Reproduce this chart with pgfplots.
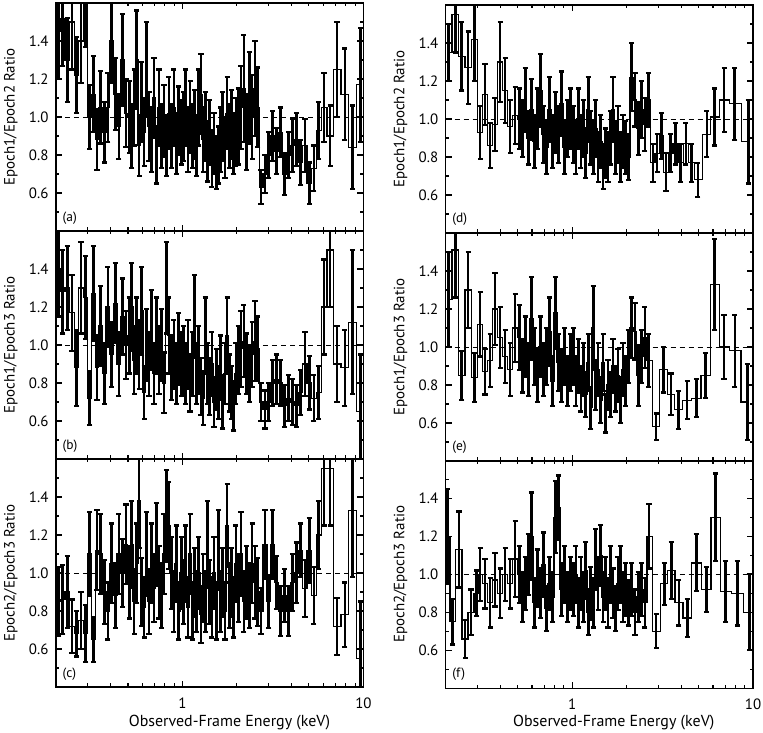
\documentclass[border=0pt]{standalone}
\usepackage{fontspec}
\setmainfont{PT Sans}
\usepackage{pgfplots}
\usepackage{pgfplotstable}
\pgfplotsset{compat=1.18}

\newcommand\mytickfont{\fontsize{15}{17}\selectfont}
\newcommand\mylabfont{\fontsize{15}{17}\selectfont}
\newcommand\myxlabfont{\fontsize{16}{18}\selectfont}
\newcommand\myletfont{\fontsize{13.5}{15}\selectfont}

\pgfplotstableread{
x y e
0.206 1.45 0.25
0.218 1.52 0.25
0.231 1.30 0.22
0.245 1.50 0.25
0.260 1.22 0.20
0.275 1.40 0.22
0.292 1.62 0.25
0.307 1.00 0.17
0.322 1.12 0.20
0.337 0.88 0.16
0.353 1.05 0.19
0.370 0.92 0.16
0.387 1.05 0.18
0.406 1.40 0.22
0.425 1.12 0.19
0.445 0.95 0.17
0.466 1.30 0.24
0.488 1.02 0.18
0.508 1.00 0.19
0.524 0.90 0.17
0.541 1.05 0.20
0.558 1.30 0.26
0.576 0.85 0.16
0.595 1.08 0.21
0.614 0.92 0.18
0.633 1.25 0.25
0.654 0.95 0.18
0.675 0.88 0.17
0.696 1.10 0.21
0.718 0.80 0.15
0.741 1.05 0.20
0.765 0.90 0.17
0.790 0.98 0.19
0.815 0.85 0.16
0.841 1.02 0.19
0.868 0.90 0.17
0.896 1.05 0.20
0.924 0.86 0.16
0.954 0.98 0.18
0.984 0.92 0.17
1.014 0.95 0.18
1.042 1.05 0.20
1.072 0.88 0.17
1.102 1.00 0.19
1.133 0.90 0.17
1.165 0.96 0.18
1.197 0.85 0.16
1.231 1.05 0.20
1.266 1.12 0.21
1.301 0.88 0.17
1.338 0.95 0.18
1.376 0.82 0.16
1.414 0.92 0.17
1.454 0.78 0.15
1.495 0.86 0.16
1.537 0.76 0.14
1.580 0.80 0.15
1.625 0.88 0.17
1.670 0.95 0.18
1.717 0.84 0.16
1.766 1.02 0.19
1.815 0.90 0.17
1.866 0.96 0.18
1.919 0.86 0.16
1.973 0.92 0.18
2.036 0.95 0.20
2.108 1.05 0.22
2.184 1.15 0.28
2.262 0.92 0.20
2.343 1.10 0.24
2.427 1.00 0.22
2.514 1.15 0.25
2.604 1.05 0.21
2.72 0.63 0.09
2.86 0.70 0.10
3.00 0.80 0.12
3.15 0.90 0.13
3.31 0.82 0.12
3.48 0.92 0.13
3.66 0.70 0.11
3.85 0.80 0.12
4.05 0.85 0.14
4.27 0.88 0.14
4.50 0.76 0.12
4.75 0.85 0.14
5.02 0.65 0.11
5.32 0.73 0.12
5.65 0.93 0.15
6.05 1.05 0.18
6.55 0.90 0.16
7.15 1.25 0.25
7.90 1.12 0.24
8.70 0.84 0.22
9.65 1.17 0.30
}\tabA

\pgfplotstableread{
x y e
0.206 1.40 0.25
0.218 1.28 0.22
0.231 1.30 0.22
0.245 1.17 0.20
0.260 0.88 0.20
0.275 1.30 0.24
0.292 1.25 0.22
0.307 0.72 0.14
0.322 1.27 0.25
0.337 0.88 0.17
0.353 1.10 0.21
0.370 0.85 0.16
0.387 1.20 0.21
0.406 0.95 0.17
0.425 1.22 0.21
0.445 0.90 0.17
0.466 1.15 0.20
0.488 1.00 0.18
0.508 1.05 0.20
0.524 1.20 0.23
0.541 0.92 0.18
0.558 1.05 0.20
0.576 0.95 0.18
0.595 1.18 0.23
0.614 0.75 0.14
0.633 1.00 0.19
0.654 0.90 0.17
0.675 1.08 0.21
0.696 0.85 0.16
0.718 1.05 0.20
0.741 0.92 0.18
0.765 1.00 0.19
0.790 0.80 0.16
0.815 1.30 0.24
0.841 1.05 0.20
0.868 0.88 0.17
0.896 0.95 0.18
0.924 0.85 0.16
0.954 0.98 0.19
0.984 0.90 0.17
1.014 0.92 0.18
1.042 0.85 0.16
1.072 0.95 0.18
1.102 0.80 0.15
1.133 0.90 0.17
1.165 1.15 0.22
1.197 0.85 0.16
1.231 0.92 0.18
1.266 0.78 0.15
1.301 0.72 0.14
1.338 1.05 0.20
1.376 0.85 0.16
1.414 0.78 0.15
1.454 0.90 0.17
1.495 0.70 0.13
1.537 0.82 0.16
1.580 0.75 0.14
1.625 0.88 0.17
1.670 0.70 0.14
1.717 0.85 0.16
1.766 1.05 0.20
1.815 0.80 0.15
1.866 0.75 0.14
1.919 0.68 0.13
1.973 0.85 0.16
2.036 0.92 0.18
2.108 0.98 0.20
2.184 1.02 0.19
2.262 0.90 0.16
2.343 0.85 0.15
2.427 0.95 0.17
2.514 1.02 0.21
2.604 0.98 0.17
2.72 0.70 0.10
2.86 0.66 0.10
3.00 0.70 0.10
3.15 0.80 0.12
3.31 0.82 0.13
3.48 0.80 0.12
3.66 0.68 0.11
3.85 0.72 0.12
4.05 0.70 0.12
4.27 0.68 0.11
4.50 0.75 0.12
4.75 0.90 0.17
5.02 0.80 0.14
5.32 0.72 0.12
5.65 0.75 0.14
6.05 1.20 0.25
6.55 1.50 0.30
7.15 0.90 0.20
7.90 0.88 0.20
8.70 1.12 0.38
9.65 0.65 0.30
}\tabB

\pgfplotstableread{
x y e
0.206 0.85 0.18
0.218 0.86 0.18
0.231 0.90 0.19
0.245 0.72 0.14
0.260 0.68 0.12
0.275 0.75 0.15
0.292 0.68 0.15
0.307 1.10 0.22
0.322 0.65 0.12
0.337 1.12 0.21
0.353 1.10 0.21
0.370 0.90 0.17
0.387 0.80 0.15
0.406 1.05 0.21
0.425 0.88 0.17
0.445 1.10 0.21
0.466 1.00 0.18
0.488 1.15 0.21
0.508 0.95 0.19
0.524 1.15 0.23
0.541 0.85 0.17
0.558 1.05 0.21
0.576 1.38 0.25
0.595 0.90 0.18
0.614 0.82 0.16
0.633 1.10 0.22
0.654 0.85 0.17
0.675 1.05 0.21
0.696 0.92 0.18
0.718 1.15 0.22
0.741 0.95 0.19
0.765 0.88 0.17
0.790 1.10 0.21
0.815 1.30 0.24
0.841 1.25 0.23
0.868 1.00 0.19
0.896 0.85 0.16
0.924 1.05 0.20
0.954 0.80 0.15
0.984 1.00 0.19
1.014 0.90 0.17
1.042 1.05 0.20
1.072 0.82 0.16
1.102 1.10 0.21
1.133 0.80 0.15
1.165 0.95 0.18
1.197 0.85 0.16
1.231 1.00 0.19
1.266 0.78 0.15
1.301 0.92 0.18
1.338 0.85 0.16
1.376 1.15 0.23
1.414 0.90 0.17
1.454 0.82 0.16
1.495 1.00 0.19
1.537 0.80 0.15
1.580 1.12 0.21
1.625 0.85 0.16
1.670 0.95 0.18
1.717 0.80 0.15
1.766 1.25 0.22
1.815 0.88 0.17
1.866 0.95 0.18
1.919 0.82 0.16
1.973 1.05 0.20
2.036 0.92 0.18
2.108 1.10 0.22
2.184 0.85 0.16
2.262 0.95 0.19
2.343 0.88 0.17
2.427 1.05 0.21
2.514 0.95 0.19
2.604 0.90 0.18
2.72 0.80 0.12
2.86 1.15 0.18
3.00 0.85 0.14
3.15 1.15 0.18
3.31 0.95 0.14
3.48 0.80 0.13
3.66 0.88 0.14
3.85 0.80 0.13
4.05 0.95 0.15
4.27 1.00 0.16
4.50 1.12 0.14
4.75 0.92 0.15
5.02 1.12 0.17
5.32 0.88 0.15
5.65 1.20 0.18
6.05 1.55 0.30
6.55 1.55 0.30
7.15 0.72 0.15
7.90 0.78 0.17
8.70 1.33 0.35
9.65 0.55 0.30
}\tabC

\pgfplotstableread{
x y e
0.208 1.35 0.15
0.226 1.55 0.20
0.245 1.33 0.18
0.266 1.27 0.19
0.288 1.42 0.22
0.310 0.93 0.14
0.330 1.13 0.16
0.352 0.86 0.12
0.375 0.97 0.14
0.400 1.30 0.21
0.426 1.15 0.17
0.454 0.96 0.14
0.484 1.02 0.15
0.510 1.00 0.16
0.530 0.95 0.15
0.551 1.10 0.17
0.572 0.90 0.14
0.595 1.05 0.16
0.618 0.88 0.14
0.642 1.00 0.16
0.668 1.15 0.19
0.694 0.92 0.15
0.721 0.85 0.14
0.749 1.05 0.17
0.779 0.88 0.14
0.809 0.98 0.16
0.841 0.92 0.15
0.874 1.08 0.17
0.909 0.85 0.14
0.944 0.95 0.15
0.981 1.00 0.16
1.016 0.92 0.15
1.048 0.85 0.14
1.082 1.00 0.16
1.117 0.88 0.14
1.152 0.95 0.15
1.189 0.82 0.13
1.227 1.05 0.17
1.267 0.90 0.14
1.307 0.85 0.14
1.349 0.95 0.15
1.392 0.80 0.13
1.437 0.88 0.14
1.483 0.75 0.12
1.530 0.82 0.13
1.579 0.80 0.13
1.630 0.90 0.14
1.682 1.05 0.17
1.736 0.85 0.14
1.791 0.92 0.15
1.849 0.80 0.13
1.908 0.88 0.14
1.969 0.85 0.14
2.043 0.80 0.12
2.131 1.22 0.18
2.222 1.10 0.14
2.318 0.95 0.14
2.418 1.05 0.15
2.521 0.97 0.14
2.640 1.10 0.14
2.80 0.77 0.10
2.95 0.82 0.10
3.12 0.91 0.12
3.30 0.72 0.10
3.50 0.82 0.10
3.72 0.87 0.11
3.97 0.77 0.10
4.25 0.87 0.11
4.58 0.77 0.10
4.95 0.68 0.09
5.55 0.92 0.12
6.13 1.01 0.15
6.92 1.10 0.17
7.92 1.08 0.19
9.40 0.88 0.22
}\tabD

\pgfplotstableread{
x y e
0.208 1.25 0.25
0.226 1.51 0.25
0.245 0.85 0.13
0.266 1.30 0.20
0.288 0.84 0.13
0.310 1.12 0.17
0.330 0.87 0.12
0.352 0.93 0.14
0.375 1.20 0.19
0.400 1.05 0.16
0.426 0.95 0.14
0.454 0.88 0.14
0.484 1.10 0.18
0.510 1.05 0.17
0.530 0.90 0.14
0.551 1.00 0.16
0.572 0.88 0.14
0.595 1.15 0.22
0.618 0.95 0.15
0.642 0.85 0.14
0.668 1.00 0.16
0.694 0.88 0.14
0.721 0.95 0.15
0.749 1.08 0.18
0.779 0.82 0.13
0.809 1.18 0.19
0.841 0.92 0.15
0.874 0.85 0.14
0.909 0.95 0.15
0.944 0.82 0.13
0.981 0.92 0.15
1.016 0.95 0.15
1.048 0.82 0.13
1.082 0.90 0.14
1.117 0.78 0.12
1.152 0.88 0.14
1.189 0.75 0.12
1.227 0.92 0.15
1.267 0.68 0.11
1.307 1.10 0.22
1.349 0.80 0.13
1.392 0.88 0.14
1.437 0.72 0.12
1.483 0.92 0.15
1.530 0.65 0.10
1.579 0.80 0.13
1.630 0.75 0.12
1.682 0.90 0.14
1.736 0.78 0.12
1.791 0.85 0.14
1.849 0.72 0.12
1.908 0.88 0.14
1.969 0.82 0.13
2.043 0.95 0.14
2.131 1.10 0.16
2.222 1.08 0.15
2.318 0.85 0.16
2.418 0.95 0.14
2.521 1.05 0.16
2.640 0.93 0.14
2.91 0.58 0.07
3.20 0.88 0.12
3.52 0.75 0.11
3.87 0.67 0.10
4.32 0.72 0.10
4.86 0.73 0.10
5.46 0.85 0.12
6.14 1.33 0.24
6.90 1.00 0.17
7.93 0.98 0.19
9.30 0.71 0.20
}\tabE

\pgfplotstableread{
x y e
0.205 1.20 0.25
0.218 0.75 0.12
0.237 1.13 0.20
0.256 0.66 0.10
0.276 0.80 0.12
0.297 0.90 0.12
0.310 1.00 0.14
0.330 0.95 0.13
0.352 0.85 0.13
0.375 0.97 0.14
0.400 0.90 0.13
0.426 1.00 0.14
0.454 0.95 0.13
0.484 1.08 0.20
0.510 1.00 0.15
0.530 0.88 0.13
0.551 0.95 0.14
0.572 1.05 0.16
0.595 1.20 0.23
0.618 0.85 0.13
0.642 0.98 0.15
0.668 0.90 0.13
0.694 1.05 0.17
0.721 0.82 0.12
0.749 0.95 0.14
0.779 0.88 0.13
0.809 1.30 0.19
0.841 1.35 0.17
0.874 0.92 0.14
0.909 1.00 0.15
0.944 0.88 0.13
0.981 0.95 0.14
1.016 0.92 0.14
1.048 1.00 0.15
1.082 0.85 0.13
1.117 0.95 0.14
1.152 0.88 0.13
1.189 1.02 0.15
1.227 0.80 0.12
1.267 0.90 0.14
1.307 0.85 0.13
1.349 1.08 0.16
1.392 0.95 0.14
1.437 1.10 0.16
1.483 0.88 0.13
1.530 0.95 0.14
1.579 0.85 0.13
1.630 1.00 0.15
1.682 0.90 0.13
1.736 0.82 0.12
1.791 0.95 0.14
1.849 1.00 0.15
1.908 0.88 0.13
1.969 0.92 0.14
2.043 0.85 0.12
2.131 0.92 0.14
2.222 0.80 0.12
2.318 0.88 0.13
2.418 0.92 0.14
2.521 0.85 0.13
2.660 1.20 0.17
2.91 0.70 0.09
3.23 0.95 0.11
3.53 1.02 0.15
3.89 0.85 0.12
4.33 0.77 0.10
4.85 1.06 0.15
5.52 0.92 0.12
6.21 1.30 0.23
7.03 0.91 0.16
8.17 0.90 0.17
9.53 0.80 0.20
}\tabF

\pgfplotsset{
  every axis/.append style={
    scale only axis, width=307.4bp, height=228bp,
    xmin=0.2, xmax=10, ymin=0.4, ymax=1.6,
    xtick={1,10},
    minor xtick={0.3,0.4,0.5,0.6,0.7,0.8,0.9,2,3,4,5,6,7,8,9},
    ytick={0.6,0.8,1.0,1.2,1.4}, yticklabels={0.6,0.8,1.0,1.2,1.4},
    minor ytick={0.5,0.7,0.9,1.1,1.3,1.5},
    tick align=inside,
    major tick length=6bp, minor tick length=3.5bp,
    axis line style={black, line width=1.4bp},
    tick label style={font=\mytickfont},
    yticklabel style={xshift=-4bp},
    xticklabel style={yshift=-7bp},
    ylabel style={font=\mylabfont, at={(axis description cs:-0.147,0.5)}, anchor=center},
  },
  every tick/.append style={black, line width=1.1bp},
}

\begin{document}
\begin{tikzpicture}
\path[use as bounding box] (0,0) rectangle (763bp,733bp);

\begin{semilogxaxis}[at={(56bp,502bp)}, anchor=south west, ylabel={Epoch1/Epoch2 Ratio}, xticklabels={,}]
\addplot[black, line width=0.9bp, dash pattern=on 5bp off 4bp] coordinates {(0.2,1) (10,1)};
\addplot[black, line width=1.3bp, const plot mark mid, error bars/.cd, y dir=both, y explicit, error bar style={black, line width=2.6bp}, error mark options={rotate=90, black, line width=2.2bp, mark size=2.6bp}] table[x=x, y=y, y error=e] {\tabA};
\end{semilogxaxis}

\begin{semilogxaxis}[at={(56bp,274bp)}, anchor=south west, ylabel={Epoch1/Epoch3 Ratio}, xticklabels={,}]
\addplot[black, line width=0.9bp, dash pattern=on 5bp off 4bp] coordinates {(0.2,1) (10,1)};
\addplot[black, line width=1.3bp, const plot mark mid, error bars/.cd, y dir=both, y explicit, error bar style={black, line width=2.6bp}, error mark options={rotate=90, black, line width=2.2bp, mark size=2.6bp}] table[x=x, y=y, y error=e] {\tabB};
\end{semilogxaxis}

\begin{semilogxaxis}[at={(56bp,46bp)}, anchor=south west, ylabel={Epoch2/Epoch3 Ratio}, xticklabels={1,10}]
\addplot[black, line width=0.9bp, dash pattern=on 5bp off 4bp] coordinates {(0.2,1) (10,1)};
\addplot[black, line width=1.3bp, const plot mark mid, error bars/.cd, y dir=both, y explicit, error bar style={black, line width=2.6bp}, error mark options={rotate=90, black, line width=2.2bp, mark size=2.6bp}] table[x=x, y=y, y error=e] {\tabC};
\end{semilogxaxis}

\begin{semilogxaxis}[at={(445.7bp,500bp)}, anchor=south west, ylabel={Epoch1/Epoch2 Ratio}, xticklabels={,}]
\addplot[black, line width=0.9bp, dash pattern=on 5bp off 4bp] coordinates {(0.2,1) (10,1)};
\addplot[black, line width=1.3bp, const plot mark mid, error bars/.cd, y dir=both, y explicit, error bar style={black, line width=2.6bp}, error mark options={rotate=90, black, line width=2.2bp, mark size=2.6bp}] table[x=x, y=y, y error=e] {\tabD};
\end{semilogxaxis}

\begin{semilogxaxis}[at={(445.7bp,272bp)}, anchor=south west, ylabel={Epoch1/Epoch3 Ratio}, xticklabels={,}]
\addplot[black, line width=0.9bp, dash pattern=on 5bp off 4bp] coordinates {(0.2,1) (10,1)};
\addplot[black, line width=1.3bp, const plot mark mid, error bars/.cd, y dir=both, y explicit, error bar style={black, line width=2.6bp}, error mark options={rotate=90, black, line width=2.2bp, mark size=2.6bp}] table[x=x, y=y, y error=e] {\tabE};
\end{semilogxaxis}

\begin{semilogxaxis}[at={(445.7bp,44.7bp)}, anchor=south west, ylabel={Epoch2/Epoch3 Ratio}, xticklabels={1,10}]
\addplot[black, line width=0.9bp, dash pattern=on 5bp off 4bp] coordinates {(0.2,1) (10,1)};
\addplot[black, line width=1.3bp, const plot mark mid, error bars/.cd, y dir=both, y explicit, error bar style={black, line width=2.6bp}, error mark options={rotate=90, black, line width=2.2bp, mark size=2.6bp}] table[x=x, y=y, y error=e] {\tabF};
\end{semilogxaxis}

\node[anchor=west, font=\myletfont] at (59.2bp,514.5bp) {(a)};
\node[anchor=west, font=\myletfont] at (59.2bp,286.5bp) {(b)};
\node[anchor=west, font=\myletfont] at (59.2bp,58.5bp) {(c)};
\node[anchor=west, font=\myletfont] at (448.9bp,514bp) {(d)};
\node[anchor=west, font=\myletfont] at (448.9bp,286bp) {(e)};
\node[anchor=west, font=\myletfont] at (448.9bp,58.4bp) {(f)};

\node[anchor=base, font=\myxlabfont] at (229.5bp,7bp) {Observed-Frame Energy (keV)};
\node[anchor=base, font=\myxlabfont] at (613.8bp,7bp) {Observed-Frame Energy (keV)};
\end{tikzpicture}
\end{document}
